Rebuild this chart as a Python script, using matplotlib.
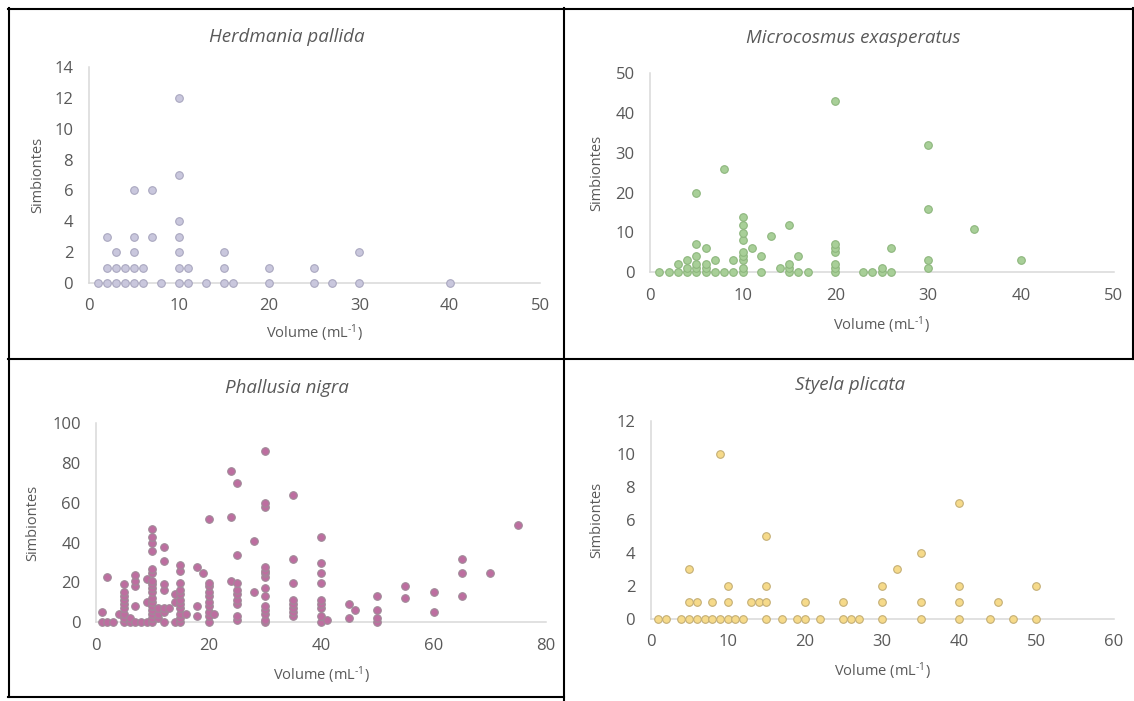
import matplotlib
matplotlib.use("Agg")
import matplotlib.pyplot as plt
from matplotlib.lines import Line2D

# ---- data: volume (mL^-1) and symbiont counts observed at each volume ----
herd_vol = [1, 2, 3, 4, 5, 6, 7, 8, 10, 11, 13, 15, 16, 20, 25, 27, 30, 40]
herd_sym = [[0], [0, 1, 3], [0, 1, 2], [0, 1], [0, 1, 2, 3, 6], [0, 1], [3, 6], [0],
            [0, 1, 2, 3, 4, 7, 12], [0, 1], [0], [0, 1, 2], [0], [0, 1], [0, 1], [0],
            [0, 2], [0]]

micro_vol = [1, 2, 3, 4, 5, 6, 7, 8, 9, 10, 11, 12, 13, 14, 15, 16, 17, 20, 23, 24,
             25, 26, 30, 35, 40]
micro_sym = [[0], [0], [0, 2], [0, 1, 3], [0, 1, 2, 4, 7, 20], [0, 1, 2, 6], [0, 3],
             [0, 26], [0, 3], [0, 1, 3, 4, 5, 8, 10, 12, 14], [6], [0, 4], [9], [1],
             [0, 1, 2, 12], [0, 4], [0], [0, 1, 2, 5, 6, 7, 43], [0], [0], [0, 1],
             [0, 6], [1, 3, 16, 32], [11], [3]]

phal_vol = [1, 2, 3, 4, 5, 6, 7, 8, 9, 10, 11, 12, 13, 14, 15, 16, 18, 19, 20, 21,
            24, 25, 28, 30, 35, 40, 41, 45, 46, 50, 55, 60, 65, 70, 75]
phal_sym = [[0, 5], [0, 23], [0], [4], [0, 2, 4, 7, 9, 11, 13, 15, 19], [0, 2],
            [0, 8, 18, 21, 24], [0], [0, 10, 22],
            [0, 2, 4, 6, 8, 10, 12, 15, 17, 19, 21, 25, 27, 36, 40, 43, 47],
            [2, 4, 7], [0, 5, 7, 16, 19, 31, 38], [7], [0, 10, 14],
            [0, 2, 4, 7, 9, 11, 14, 16, 20, 26, 29], [4], [3, 8, 28], [25],
            [0, 3, 5, 8, 10, 13, 15, 18, 20, 52], [4], [21, 53, 76],
            [1, 3, 9, 11, 14, 16, 20, 34, 70], [15, 41],
            [0, 1, 4, 6, 8, 13, 17, 23, 25, 26, 28, 58, 60, 86],
            [3, 5, 7, 9, 11, 20, 32, 64], [0, 3, 7, 9, 11, 20, 25, 30, 43], [1],
            [2, 9], [6], [0, 2, 6, 13], [12, 18], [5, 15], [13, 25, 32], [25], [49]]

sty_vol = [1, 2, 4, 5, 6, 7, 8, 9, 10, 11, 12, 13, 14, 15, 17, 19, 20, 22, 25, 26,
           27, 30, 32, 35, 40, 44, 45, 47, 50]
sty_sym = [[0], [0], [0], [0, 1, 3], [0, 1], [0], [0, 1], [0, 10], [0, 1, 2], [0],
           [0], [1], [1], [0, 1, 2, 5], [0], [0], [0, 1], [0], [0, 1], [0], [0],
           [0, 1, 2], [3], [0, 1, 4], [0, 1, 2, 7], [0], [1], [0], [0, 2]]

titles = ["Herdmania pallida", "Microcosmus exasperatus", "Phallusia nigra", "Styela plicata"]
x_ticks = [[0, 10, 20, 30, 40, 50], [0, 10, 20, 30, 40, 50],
           [0, 20, 40, 60, 80], [0, 10, 20, 30, 40, 50, 60]]
y_ticks = [[0, 2, 4, 6, 8, 10, 12, 14], [0, 10, 20, 30, 40, 50],
           [0, 20, 40, 60, 80, 100], [0, 2, 4, 6, 8, 10, 12]]
y_label = "Simbiontes"
x_label = "Volume (mL$^{\\mathregular{\u2010}1}$)"

# ---- styling ----
FONT = "Open Sans"
plt.rcParams["font.family"] = [FONT, "DejaVu Sans"]
plt.rcParams["mathtext.fontset"] = "custom"
plt.rcParams["mathtext.rm"] = FONT
plt.rcParams["mathtext.it"] = FONT + ":italic"
TEXT = "#595959"
AXIS = "#d9d9d9"

W, H = 1134, 701
fig = plt.figure(figsize=(W / 100, H / 100), dpi=100)
fig.patch.set_facecolor("white")


def fx(px):
    return px / W


def fy(py):
    return 1 - py / H


panels = [
    # axes box in pixels (left, right, top, bottom), title, label positions, colours
    dict(box=(88.5, 540, 67, 283), vol=herd_vol, sym=herd_sym,
         face="#c9c7dd", edge="#a9a7bf", title_xy=(287, 37),
         ylab_x=38, xlab_y=333),
    dict(box=(650, 1113.5, 73.3, 272.3), vol=micro_vol, sym=micro_sym,
         face="#a8cf98", edge="#8db67d", title_xy=(853, 38),
         ylab_x=597, xlab_y=325),
    dict(box=(96, 546, 423.3, 622.3), vol=phal_vol, sym=phal_sym,
         face="#bd6ea0", edge="#a08a98", title_xy=(287, 388),
         ylab_x=33, xlab_y=675),
    dict(box=(650.5, 1113.5, 420.7, 619), vol=sty_vol, sym=sty_sym,
         face="#f6da8a", edge="#c4ae74", title_xy=(850, 385),
         ylab_x=597, xlab_y=671),
]

for i, p in enumerate(panels):
    l, r, t, b = p["box"]
    ax = fig.add_axes([fx(l), fy(b), fx(r - l), (b - t) / H])
    xs, ys = [], []
    for v, counts in zip(p["vol"], p["sym"]):
        for c in counts:
            xs.append(v)
            ys.append(c)
    ax.scatter(xs, ys, s=30, color=p["face"], edgecolors=p["edge"],
               linewidths=0.8, zorder=3, clip_on=False)
    xt, yt = x_ticks[i], y_ticks[i]
    ax.set_xlim(xt[0], xt[-1])
    ax.set_ylim(yt[0], yt[-1])
    ax.set_xticks(xt)
    ax.set_yticks(yt)
    for side in ("top", "right"):
        ax.spines[side].set_visible(False)
    for side in ("left", "bottom"):
        ax.spines[side].set_color(AXIS)
        ax.spines[side].set_linewidth(1.1)
    ax.tick_params(length=0, labelsize=12, labelcolor=TEXT, pad=11)
    ax.set_facecolor("none")

    tx, ty = p["title_xy"]
    fig.text(fx(tx), fy(ty), titles[i], ha="center", va="center",
             fontsize=13.5, style="italic", color=TEXT)
    fig.text(fx(p["ylab_x"]), fy((t + b) / 2), y_label, rotation=90,
             ha="center", va="center", fontsize=10.5, color=TEXT)
    fig.text(fx((l + r) / 2), fy(p["xlab_y"]), x_label, ha="center",
             va="center", fontsize=10.5, color=TEXT)

# frame lines separating the four charts
frame = [((8, 1134), (8.5, 8.5)), ((8.5, 8.5), (8, 697)),
         ((564, 564), (8, 701)), ((8, 1134), (359, 359)),
         ((8, 564), (697, 697)), ((1133, 1133), (8, 359))]
for (x0, x1), (y0, y1) in frame:
    fig.add_artist(Line2D([fx(x0), fx(x1)], [fy(y0), fy(y1)],
                          transform=fig.transFigure, color="black", lw=1.5))

fig.savefig("out.png", dpi=100)
